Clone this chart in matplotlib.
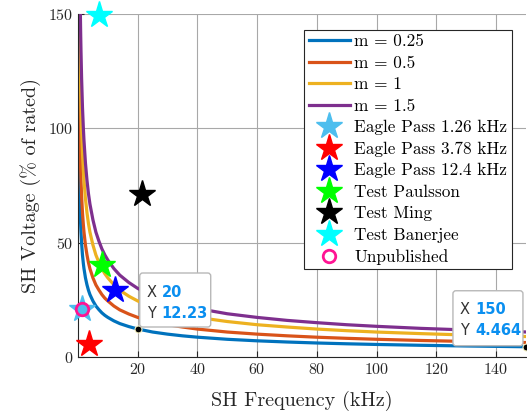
import numpy as np
import matplotlib.pyplot as plt
from matplotlib.patches import FancyBboxPatch
from matplotlib.transforms import IdentityTransform

plt.rcParams['font.family'] = ['cmr10', 'DejaVu Serif']
plt.rcParams['mathtext.fontset'] = 'cm'
plt.rcParams['axes.formatter.use_mathtext'] = True

# SH frequency (kHz) at which the curves were read
freq = [0.1, 0.13, 0.17, 0.2, 0.25, 0.3, 0.4, 0.5, 0.6, 0.7, 0.8, 0.9, 1, 1.2, 1.5, 1.8, 2, 2.5, 3, 3.5, 4,
        5, 6, 7, 8, 9, 10, 12, 14, 17, 20, 25, 30, 35, 40, 50, 60, 70, 80, 90, 100, 115, 130, 150]
# SH voltage (% of rated) for each m
v_025 = [172.9, 151.7, 132.6, 122.3, 109.4, 99.8, 86.5, 77.3, 70.6, 65.4, 61.1, 57.6, 54.7, 49.9, 44.6,
         40.8, 38.7, 34.6, 31.6, 29.2, 27.3, 24.5, 22.3, 20.7, 19.3, 18.2, 17.3, 15.8, 14.6, 13.3, 12.23,
         10.9, 9.98, 9.24, 8.65, 7.73, 7.06, 6.54, 6.11, 5.76, 5.47, 5.10, 4.80, 4.464]
v_05 = [244.5, 214.5, 187.5, 173.0, 154.7, 141.1, 122.3, 109.3, 99.8, 92.5, 86.4, 81.5, 77.4, 70.6, 63.1,
        57.7, 54.7, 48.9, 44.7, 41.3, 38.6, 34.6, 31.5, 29.3, 27.3, 25.7, 24.5, 22.3, 20.6, 18.8, 17.3,
        15.5, 14.1, 13.1, 12.2, 10.9, 9.98, 9.25, 8.64, 8.15, 7.73, 7.21, 6.78, 6.31]
v_1 = [345.8, 303.4, 265.2, 244.6, 218.8, 199.6, 173.0, 154.6, 141.2, 130.8, 122.2, 115.2, 109.4, 99.8, 89.2,
       81.6, 77.4, 69.2, 63.2, 58.4, 54.6, 49.0, 44.6, 41.4, 38.6, 36.4, 34.6, 31.6, 29.2, 26.6, 24.5,
       21.8, 20.0, 18.5, 17.3, 15.5, 14.1, 13.1, 12.2, 11.5, 10.9, 10.2, 9.6, 8.93]
v_15 = [423.5, 371.6, 324.8, 299.6, 268.0, 244.5, 211.9, 189.3, 172.9, 160.2, 149.7, 141.1, 134.0, 122.2, 109.2,
        99.9, 94.8, 84.8, 77.4, 71.5, 66.9, 60.0, 54.6, 50.7, 47.3, 44.6, 42.4, 38.7, 35.8, 32.6, 30.0,
        26.7, 24.4, 22.6, 21.2, 18.9, 17.3, 16.0, 15.0, 14.1, 13.4, 12.5, 11.8, 10.93]
curve_labels = ['m = 0.25', 'm = 0.5', 'm = 1', 'm = 1.5']
curve_colors = ['#0072BD', '#D95319', '#EDB120', '#7E2F8E']

# measured / test points
pt_labels = ['Eagle Pass 1.26 kHz', 'Eagle Pass 3.78 kHz', 'Eagle Pass 12.4 kHz',
             'Test Paulsson', 'Test Ming', 'Test Banerjee']
pt_x = [1.26, 3.78, 12.4, 7.9, 21.3, 7.1]
pt_y = [21.0, 5.7, 29.3, 40.2, 71.3, 149.5]
pt_colors = ['#4DBEEE', '#FF0000', '#0000FF', '#00FF00', '#000000', '#00FFFF']
unpub_x = [1.26]
unpub_y = [21.0]

# data tips
tip_x = [20, 150]
tip_y = [12.23, 4.464]
tip_txt = [('20', '12.23'), ('150', '4.464')]

fig = plt.figure(figsize=(5.27, 4.17), dpi=100)
ax = fig.add_axes([0.148, 0.144, 0.85, 0.822])

for vals, lab, col in zip([v_025, v_05, v_1, v_15], curve_labels, curve_colors):
    ax.plot(freq, vals, color=col, lw=2.3, label=lab, solid_joinstyle='round')

for x, y, lab, col in zip(pt_x, pt_y, pt_labels, pt_colors):
    ax.plot(x, y, ls='none', marker='*', ms=20, color=col, mec=col, label=lab, clip_on=False, zorder=4)
ax.plot(unpub_x, unpub_y, ls='none', marker='o', ms=9, mfc='none', mec='#FF1493', mew=2,
        label='Unpublished', clip_on=False, zorder=5)

ax.set_xlim(0, 150)
ax.set_ylim(0, 150)
ax.set_xticks(range(20, 141, 20))
ax.set_yticks([0, 50, 100, 150])
ax.grid(True, color='#a8a8a8', lw=0.8)
ax.set_axisbelow(True)
for s in ['top', 'right']:
    ax.spines[s].set_visible(False)
for s in ['left', 'bottom']:
    ax.spines[s].set_color('#262626')
ax.tick_params(direction='in', length=4, labelsize=11.5, colors='#262626')
ax.set_xlabel('SH Frequency (kHz)', fontsize=14.5, color='#262626', labelpad=10)
ax.set_ylabel('SH Voltage (% of rated)', fontsize=14.5, color='#262626', labelpad=5)

leg = ax.legend(loc='upper right', bbox_to_anchor=(0.968, 0.955), fontsize=12.4,
                frameon=True, fancybox=False, framealpha=1, edgecolor='#262626',
                handlelength=2.4, handletextpad=0.25, labelspacing=0.36, borderpad=0.25,
                borderaxespad=0)
leg.get_frame().set_linewidth(0.8)

# data tips drawn in pixel space
boxes = [(2, 2, 71, 54), (-73, 1, 70, 55)]  # dx, dy, w, h relative to point
for x, y, (xs, ys), (dx, dy, w, h) in zip(tip_x, tip_y, tip_txt, boxes):
    px, py = ax.transData.transform((x, y))
    ax.plot(x, y, marker='o', ms=5, color='k', mec='#f5f0c0', mew=0.8, clip_on=False, zorder=6)
    bx, by = px + dx, py + dy
    box = FancyBboxPatch((bx, by), w, h, boxstyle='round,pad=0,rounding_size=3',
                         transform=IdentityTransform(), fc='white', ec='#b8b8b8', lw=1,
                         zorder=7, clip_on=False)
    fig.patches.append(box)
    for row, (a, b) in enumerate([('X', xs), ('Y', ys)]):
        ty = by + h - 19 - row * 21
        fig.text(bx + 7, ty, a, transform=IdentityTransform(), fontsize=10.5,
                 family='DejaVu Sans', color='#333333', va='center', zorder=8)
        fig.text(bx + 22, ty, b, transform=IdentityTransform(), fontsize=10.5,
                 family='DejaVu Sans', color='#0a8ff0', weight='bold', va='center', zorder=8)

fig.savefig('out.png', dpi=100)
